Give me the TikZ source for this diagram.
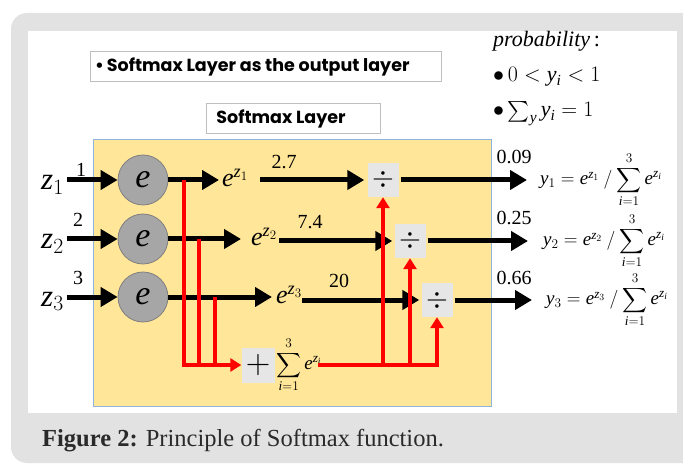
\RequirePackage{fix-cm}
\documentclass[tikz,border=0pt]{standalone}
\usepackage{amsmath}
\usepackage{fontspec}
\setmainfont{Liberation Serif}
\newfontfamily\gothic{Poppins}
\usetikzlibrary{arrows.meta}
\definecolor{outergray}{HTML}{E2E2E2}
\definecolor{layeryellow}{HTML}{FFE699}
\definecolor{layerborder}{HTML}{8FB4DC}
\definecolor{opgray}{HTML}{E6E6E6}
\definecolor{circgray}{HTML}{A6A6A6}
\definecolor{circborder}{HTML}{808080}
\definecolor{boxborder}{HTML}{BFBFBF}
\definecolor{captext}{HTML}{2A2A2A}
\newcommand\mi[1]{\mathit{#1}}
\begin{document}
\begin{tikzpicture}[x=1pt,y=-1pt,
  blk/.style={line width=5pt, -{Triangle[length=17pt,width=19pt]}},
  redarr/.style={red, line width=4pt, -{Triangle[length=11pt,width=13pt]}},
  redline/.style={red, line width=4pt},
  opbox/.style={fill=opgray, minimum width=31pt, minimum height=34pt, inner sep=0pt},
  ecirc/.style={circle, fill=circgray, draw=circborder, line width=0.8pt, minimum size=50pt, inner sep=0pt, font=\fontsize{34}{34}\selectfont},
  lbl/.style={inner sep=0pt, font=\fontsize{20}{20}\selectfont},
  zlbl/.style={inner sep=0pt, anchor=base west, font=\fontsize{31}{31}\selectfont},
  elbl/.style={inner sep=0pt, anchor=west, font=\fontsize{26}{26}\selectfont},
  frm/.style={inner sep=0pt, anchor=west, font=\fontsize{19}{19}\selectfont},
  txtbox/.style={draw=boxborder, fill=white, line width=0.8pt},
  sanstxt/.style={inner sep=0pt, font=\gothic\bfseries\fontsize{17.5}{17.5}\selectfont},
  probtxt/.style={inner sep=0pt, anchor=base west, font=\fontsize{22}{22}\selectfont},
]
\useasboundingbox (0,0) rectangle (683,465);
% frame
\fill[outergray, rounded corners=16pt] (11,13) rectangle (720,463);
\fill[white] (28,31) rectangle (677,413);
% layer
\draw[fill=layeryellow, draw=layerborder, line width=1pt] (93,140) rectangle (491,406);
% header boxes
\draw[txtbox] (90,51) rectangle (441,81);
\node[sanstxt, anchor=west] (hdr) at (95,67) {\textbullet\,Softmax Layer as the output layer};
\draw[txtbox] (206,103) rectangle (380,133);
\node[sanstxt] (lay) at (281,119) {Softmax Layer};
% probability text
\node[probtxt] (prob) at (493,47) {\textit{probability}\,:};
\node[probtxt] (p1) at (493,82) {$\bullet\, 0 < \mi{y}_{\mi{i}} < 1$};
\node[probtxt] (p2) at (493,117) {$\bullet \sum_{\mi{y}} \mi{y}_{\mi{i}} = 1$};
% inputs
\node[zlbl] (z1) at (41,190) {$\mi{z}_1$};
\node[zlbl] (z2) at (41,249) {$\mi{z}_2$};
\node[zlbl] (z3) at (41,306) {$\mi{z}_3$};
\node[lbl] (n1) at (81,170) {1};
\node[lbl] (n2) at (78,220) {2};
\node[lbl] (n3) at (78,278) {3};
% circles
\node[ecirc] (c1) at (143,180) {$\mi{e}$};
\node[ecirc] (c2) at (143,239) {$\mi{e}$};
\node[ecirc] (c3) at (143,297) {$\mi{e}$};
% exponent labels
\node[elbl] (ez1) at (222,178) {$\mi{e}^{\mi{z}_1}$};
\node[elbl] (ez2) at (251,237) {$\mi{e}^{\mi{z}_2}$};
\node[elbl] (ez3) at (276,295) {$\mi{e}^{\mi{z}_3}$};
% values
\node[lbl] (v1) at (284,162) {2.7};
\node[lbl] (v2) at (310,222) {7.4};
\node[lbl] (v3) at (339,281) {20};
% divide boxes
\node[opbox] (d1) at (383,180) {\fontsize{28}{28}\selectfont$\div$};
\node[opbox] (d2) at (410,241) {\fontsize{28}{28}\selectfont$\div$};
\node[opbox] (d3) at (437,300) {\fontsize{28}{28}\selectfont$\div$};
% outputs
\node[lbl] (o1) at (514,157) {0.09};
\node[lbl] (o2) at (514,218) {0.25};
\node[lbl] (o3) at (514,278) {0.66};
\node[frm] (y1) at (540,180) {$\mi{y}_1 = \mi{e}^{\mi{z}_1} \mathbin{/} \displaystyle\sum_{\mi{i}=1}^{3} \mi{e}^{\mi{z}_{\mi{i}}}$};
\node[frm] (y2) at (543,241) {$\mi{y}_2 = \mi{e}^{\mi{z}_2} \mathbin{/} \displaystyle\sum_{\mi{i}=1}^{3} \mi{e}^{\mi{z}_{\mi{i}}}$};
\node[frm] (y3) at (546,300) {$\mi{y}_3 = \mi{e}^{\mi{z}_3} \mathbin{/} \displaystyle\sum_{\mi{i}=1}^{3} \mi{e}^{\mi{z}_{\mi{i}}}$};
% sum box
\node[opbox, minimum width=33pt, minimum height=35pt] (plus) at (258,365) {\fontsize{34}{34}\selectfont$+$};
\node[frm] (sum) at (276,365) {$\displaystyle\sum_{\mi{i}=1}^{3} \mi{e}^{\mi{z}_{\mi{i}}}$};
% black arrows
\draw[blk] ([xshift=3pt]z1.east |- c1) -- (c1.west);
\draw[blk] ([xshift=3pt]z2.east |- c2) -- (c2.west);
\draw[blk] ([xshift=3pt]z3.east |- c3) -- (c3.west);
\draw[blk] (c1.east) -- ([xshift=-3pt]c1 -| ez1.west);
\draw[blk] (c2.east) -- ([xshift=-10pt]c2 -| ez2.west);
\draw[blk] (c3.east) -- ([xshift=-4pt]c3 -| ez3.west);
\draw[blk] ([xshift=12pt]ez1.east |- d1) -- ([xshift=-3pt]d1.west);
\draw[blk] ([xshift=2pt]ez2.east |- d2) -- ([xshift=-2pt]d2.west);
\draw[blk] ([xshift=0pt]ez3.east |- d3) -- ([xshift=-2pt]d3.west);
\draw[blk] ([xshift=2pt]d1.east) -- ([xshift=-13pt]d1 -| y1.west);
\draw[blk] ([xshift=2pt]d2.east) -- ([xshift=-15pt]d2 -| y2.west);
\draw[blk] ([xshift=2pt]d3.east) -- ([xshift=-14pt]d3 -| y3.west);
% red connectors
\coordinate (j1) at (184,180);
\coordinate (j2) at (199,239);
\coordinate (j3) at (215,297);
\coordinate (sout) at (318,365);
\draw[redarr] (j1) |- (plus.west);
\draw[redline] (j2) -- (j2 |- plus.west);
\draw[redline] (j3) -- (j3 |- plus.west);
\draw[redarr] (sout) -| (d3.south);
\draw[redarr] (d1.south |- sout) -- (d1.south);
\draw[redarr] (d2.south |- sout) -- (d2.south);
% caption
\node[anchor=base west, inner sep=0pt, text=captext, font=\fontsize{24.5}{24.5}\selectfont] (cap) at (42,446) {\textbf{Figure 2:} Principle of Softmax function.};
\end{tikzpicture}
\end{document}
